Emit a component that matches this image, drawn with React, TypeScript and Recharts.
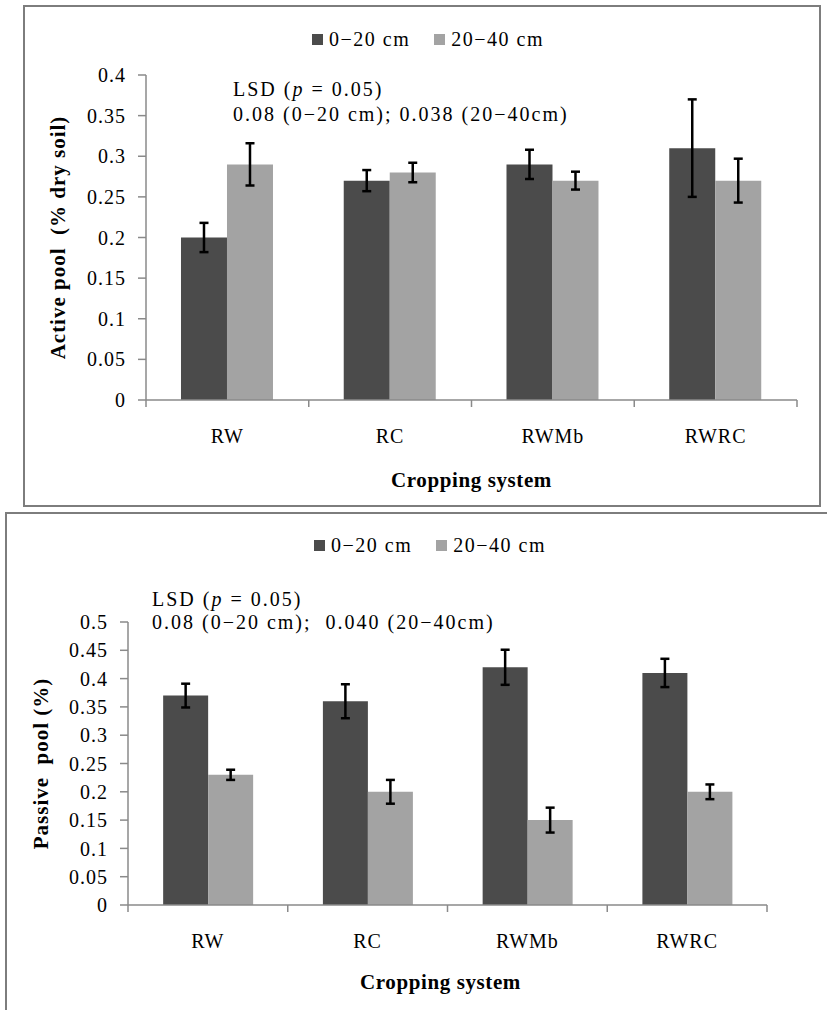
import React from 'react'
import { Bar, BarChart, ErrorBar, Legend, XAxis, YAxis } from 'recharts'

const categories = ['RW', 'RC', 'RWMb', 'RWRC']
const seriesNames = ['0\u221220 cm', '20\u221240 cm']

// active pool (% dry soil)
const activeTopsoil = [0.2, 0.27, 0.29, 0.31]
const activeTopsoilErr = [0.018, 0.013, 0.018, 0.06]
const activeSubsoil = [0.29, 0.28, 0.27, 0.27]
const activeSubsoilErr = [0.026, 0.012, 0.011, 0.027]
const activeTicks = [0, 0.05, 0.1, 0.15, 0.2, 0.25, 0.3, 0.35, 0.4]

// passive pool (%)
const passiveTopsoil = [0.37, 0.36, 0.42, 0.41]
const passiveTopsoilErr = [0.021, 0.03, 0.031, 0.025]
const passiveSubsoil = [0.23, 0.2, 0.15, 0.2]
const passiveSubsoilErr = [0.009, 0.021, 0.022, 0.013]
const passiveTicks = [0, 0.05, 0.1, 0.15, 0.2, 0.25, 0.3, 0.35, 0.4, 0.45, 0.5]

const DARK = '#4b4b4b'
const LIGHT = '#a3a3a3'
const AXIS = '#8a8a8a'
const FRAME = '#7d7d7d'
const FONT = "'Liberation Serif', 'Times New Roman', Times, serif"

const activeData = categories.map((name, i) => ({
  name,
  top: activeTopsoil[i],
  topErr: activeTopsoilErr[i],
  sub: activeSubsoil[i],
  subErr: activeSubsoilErr[i],
}))

const passiveData = categories.map((name, i) => ({
  name,
  top: passiveTopsoil[i],
  topErr: passiveTopsoilErr[i],
  sub: passiveSubsoil[i],
  subErr: passiveSubsoilErr[i],
}))

const fmt = (v: number) => String(Number(v.toFixed(2)))

const makeCategoryTick = (fallbackHalf: number) =>
  function CategoryTick(props: any) {
    const { x, y, payload, index } = props
    const half = payload && typeof payload.offset === 'number' && payload.offset > 0 ? payload.offset : fallbackHalf
    return (
      <g>
        <line x1={x - half} y1={y} x2={x - half} y2={y + 7} stroke={AXIS} strokeWidth={1.5} />
        {index === categories.length - 1 && (
          <line x1={x + half} y1={y} x2={x + half} y2={y + 7} stroke={AXIS} strokeWidth={1.5} />
        )}
        <text x={x} y={y + 43} textAnchor="middle" style={{ fontFamily: FONT }} fontSize={20} letterSpacing={1} fill="#000">
          {payload.value}
        </text>
      </g>
    )
  }

const makeYLabel = (text: string, cx: number) =>
  function YLabel(props: any) {
    const vb = props.viewBox || {}
    const cy = vb.y + vb.height / 2
    return (
      <text
        x={cx}
        y={cy}
        transform={`rotate(-90, ${cx}, ${cy})`}
        textAnchor="middle"
        dominantBaseline="central"
        fontWeight="bold"
        fontSize={21}
        letterSpacing={1}
        fill="#000"
        style={{ whiteSpace: 'pre', fontFamily: FONT }}
      >
        {text}
      </text>
    )
  }

const makeXLabel = (text: string, dy: number, dx: number) =>
  function XLabel(props: any) {
    const vb = props.viewBox || {}
    return (
      <text
        x={vb.x + vb.width / 2 + dx}
        y={vb.y + dy}
        textAnchor="middle"
        fontWeight="bold"
        fontSize={21}
        letterSpacing={0.6}
        fill="#000"
        style={{ fontFamily: FONT }}
      >
        {text}
      </text>
    )
  }

function LegendContent(props: any) {
  const items = props.payload || []
  return (
    <div
      style={{
        display: 'flex',
        alignItems: 'center',
        fontFamily: FONT,
        fontSize: 20,
        lineHeight: '20px',
        letterSpacing: 1.5,
        color: '#000',
        whiteSpace: 'nowrap',
      }}
    >
      {items.map((item: any, i: number) => (
        <div key={item.value} style={{ display: 'flex', alignItems: 'center', marginRight: i === 0 ? 24 : 0 }}>
          <span style={{ display: 'inline-block', width: 11, height: 11, background: item.color, marginRight: 6 }} />
          <span>{item.value}</span>
        </div>
      ))}
    </div>
  )
}

function LsdNote({ left, top, lineHeight, text }: { left: number; top: number; lineHeight: number; text: string }) {
  return (
    <div
      style={{
        position: 'absolute',
        left,
        top,
        fontFamily: FONT,
        fontSize: 20,
        lineHeight: `${lineHeight}px`,
        letterSpacing: 2,
        color: '#000',
        whiteSpace: 'pre',
      }}
    >
      <div>
        LSD (<i>p</i> = 0.05)
      </div>
      <div>{text}</div>
    </div>
  )
}

export default function App() {
  return (
    <div style={{ position: 'absolute', left: 0, top: 0, width: 827, height: 1010, overflow: 'hidden', background: '#fff' }}>
      {/* frames */}
      <div
        style={{
          position: 'absolute',
          left: 23,
          top: 5,
          width: 798,
          height: 502,
          border: `2px solid ${FRAME}`,
          boxSizing: 'border-box',
        }}
      />
      <div
        style={{
          position: 'absolute',
          left: 5,
          top: 512,
          width: 900,
          height: 600,
          border: `2px solid ${FRAME}`,
          boxSizing: 'border-box',
        }}
      />

      {/* active pool */}
      <div style={{ position: 'absolute', left: 24, top: 6 }}>
        <BarChart
          width={796}
          height={500}
          data={activeData}
          margin={{ top: 69, right: 23, bottom: 0, left: 62 }}
          barCategoryGap="21.5%"
          barGap={0}
        >
          <XAxis
            dataKey="name"
            height={106}
            axisLine={{ stroke: AXIS, strokeWidth: 1.5 }}
            tickLine={false}
            tickSize={0}
            tickMargin={0}
            interval={0}
            tick={makeCategoryTick(651 / 8)}
            label={makeXLabel('Cropping system', 87, 0)}
          />
          <YAxis
            width={60}
            domain={[0, 0.4]}
            ticks={activeTicks}
            tickFormatter={fmt}
            interval={0}
            axisLine={{ stroke: AXIS, strokeWidth: 1.5 }}
            tickLine={{ stroke: AXIS, strokeWidth: 1.5 }}
            tickSize={8}
            tickMargin={12}
            tick={{ fontSize: 20, fill: '#000', letterSpacing: 1, style: { fontFamily: FONT } }}
            label={makeYLabel('Active pool  (% dry soil)', 34)}
          />
          <Legend
            verticalAlign="middle"
            align="center"
            wrapperStyle={{ left: 288, top: 23, width: 'auto' }}
            content={LegendContent}
          />
          <Bar dataKey="top" name={seriesNames[0]} fill={DARK} isAnimationActive={false}>
            <ErrorBar dataKey="topErr" width={4.5} strokeWidth={2.5} stroke="#000" isAnimationActive={false} />
          </Bar>
          <Bar dataKey="sub" name={seriesNames[1]} fill={LIGHT} isAnimationActive={false}>
            <ErrorBar dataKey="subErr" width={4.5} strokeWidth={2.5} stroke="#000" isAnimationActive={false} />
          </Bar>
        </BarChart>
      </div>
      <LsdNote left={233} top={77} lineHeight={25} text={'0.08 (0\u221220 cm); 0.038 (20\u221240cm)'} />

      {/* passive pool */}
      <div style={{ position: 'absolute', left: 6, top: 513 }}>
        <BarChart
          width={821}
          height={497}
          data={passiveData}
          margin={{ top: 109, right: 60, bottom: 0, left: 62 }}
          barCategoryGap="22%"
          barGap={0}
        >
          <XAxis
            dataKey="name"
            height={105}
            axisLine={{ stroke: AXIS, strokeWidth: 1.5 }}
            tickLine={false}
            tickSize={0}
            tickMargin={0}
            interval={0}
            tick={makeCategoryTick(639 / 8)}
            label={makeXLabel('Cropping system', 84, -7)}
          />
          <YAxis
            width={60}
            domain={[0, 0.5]}
            ticks={passiveTicks}
            tickFormatter={fmt}
            interval={0}
            axisLine={{ stroke: AXIS, strokeWidth: 1.5 }}
            tickLine={{ stroke: AXIS, strokeWidth: 1.5 }}
            tickSize={8}
            tickMargin={12}
            tick={{ fontSize: 20, fill: '#000', letterSpacing: 1, style: { fontFamily: FONT } }}
            label={makeYLabel('Passive  pool (%)', 35)}
          />
          <Legend
            verticalAlign="middle"
            align="center"
            wrapperStyle={{ left: 308, top: 22, width: 'auto' }}
            content={LegendContent}
          />
          <Bar dataKey="top" name={seriesNames[0]} fill={DARK} isAnimationActive={false}>
            <ErrorBar dataKey="topErr" width={4.5} strokeWidth={2.5} stroke="#000" isAnimationActive={false} />
          </Bar>
          <Bar dataKey="sub" name={seriesNames[1]} fill={LIGHT} isAnimationActive={false}>
            <ErrorBar dataKey="subErr" width={4.5} strokeWidth={2.5} stroke="#000" isAnimationActive={false} />
          </Bar>
        </BarChart>
      </div>
      <LsdNote left={152} top={588} lineHeight={23} text={'0.08 (0\u221220 cm);  0.040 (20\u221240cm)'} />
    </div>
  )
}
